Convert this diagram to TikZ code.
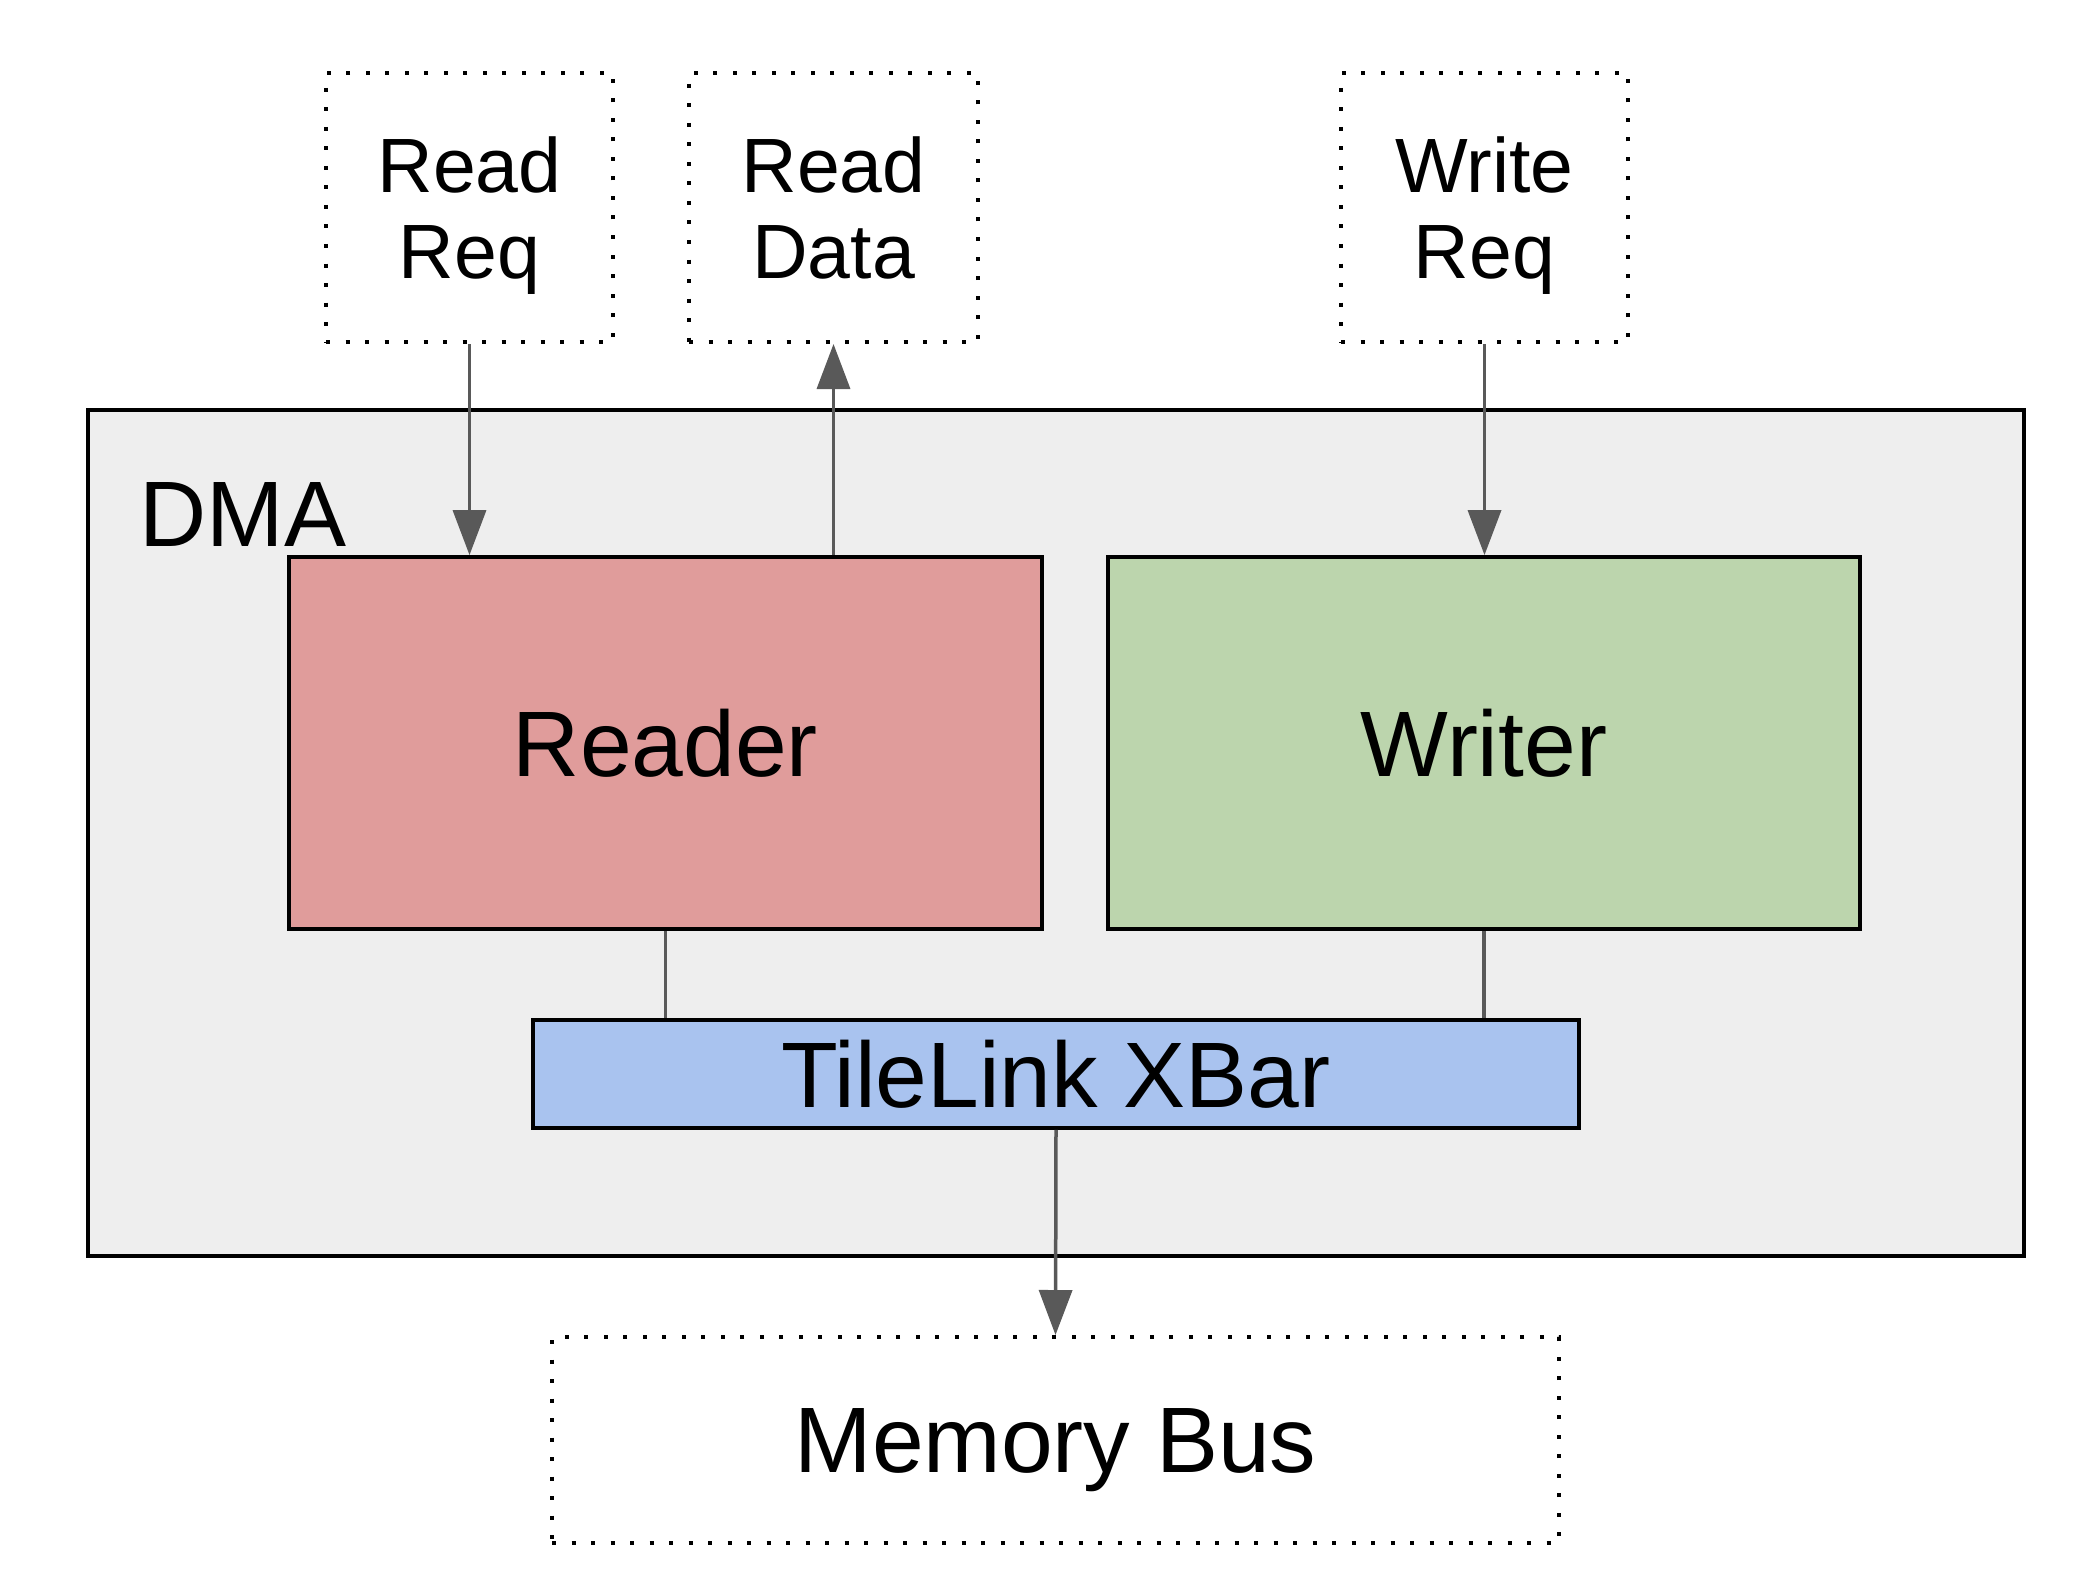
\documentclass[tikz,border=0pt]{standalone}
\usepackage{fontspec}
\setmainfont{Liberation Sans}
\usetikzlibrary{arrows.meta}
\definecolor{dmafill}{HTML}{EEEEEE}
\definecolor{readerfill}{HTML}{E09C9B}
\definecolor{writerfill}{HTML}{BCD5AD}
\definecolor{xbarfill}{HTML}{A9C3EF}
\definecolor{arrowgray}{HTML}{595959}
\tikzset{
  solidbox/.style={draw=black, line width=1.9pt, rectangle, inner sep=0pt, align=center},
  dotbox/.style={draw=black, line width=2pt, dash pattern=on 2pt off 7.75pt, rectangle, inner sep=0pt, align=center, font=\fontsize{38.5pt}{43pt}\selectfont},
  bigtext/.style={font=\fontsize{46.5pt}{52pt}\selectfont},
  conn/.style={draw=arrowgray, line width=1.75pt},
  arr/.style={conn, -{Triangle[width=16.5pt,length=22.5pt]}},
}
\begin{document}
\begin{tikzpicture}[x=0.5pt,y=-0.5pt]
\useasboundingbox (0,0) rectangle (2086,1594);
% DMA container
\node[solidbox, fill=dmafill, minimum width=968pt, minimum height=423pt] (dma) at (1056,833) {};
\node[anchor=base west, inner sep=0pt, bigtext] (dmalabel) at (139,546) {DMA};
% inner blocks
\node[solidbox, fill=readerfill, bigtext, minimum width=376.5pt, minimum height=186pt] (reader) at (665.5,743) {Reader};
\node[solidbox, fill=writerfill, bigtext, minimum width=376pt, minimum height=186pt] (writer) at (1484,743) {Writer};
\node[solidbox, fill=xbarfill, bigtext, minimum width=523pt, minimum height=54pt] (xbar) at (1056,1074) {TileLink XBar};
% external interfaces
\node[dotbox, minimum width=143.5pt, minimum height=134.5pt] (rreq) at (469.5,207.5) {Read\\\smash{Req}};
\node[dotbox, minimum width=144.5pt, minimum height=134.5pt] (rdata) at (833.5,207.5) {Read\\Data};
\node[dotbox, minimum width=143.5pt, minimum height=134.5pt] (wreq) at (1484.5,207.5) {Write\\\smash{Req}};
\node[dotbox, bigtext, text depth=0pt, minimum width=503.5pt, minimum height=103pt] (mbus) at (1055.5,1440) {Memory Bus};
% connectors
\draw[arr] (rreq.south) -- (rreq.south |- reader.north);
\draw[arr] (rdata.south |- reader.north) -- (rdata.south);
\draw[arr] (wreq.south) -- (wreq.south |- writer.north);
\draw[conn] (reader.south) -- (reader.south |- xbar.north);
\draw[conn] (writer.south) -- (writer.south |- xbar.north);
\draw[arr] (xbar.south) -- (mbus.north);
\end{tikzpicture}
\end{document}
